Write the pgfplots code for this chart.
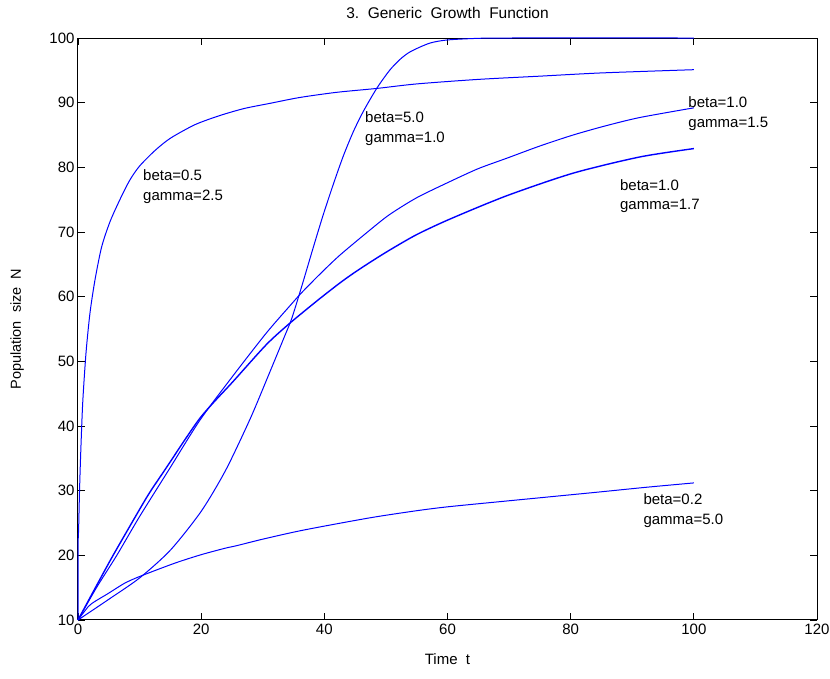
\documentclass[border=0pt]{standalone}
\usepackage{fontspec}
\setmainfont{Liberation Sans}
\usepackage{pgfplots}
\pgfplotsset{compat=1.18}
\pgfplotsset{curve/.style={blue, line width=1pt, smooth, tension=0.45, mark=none}}

\begin{document}
\begin{tikzpicture}
\useasboundingbox (-78pt,-59pt) rectangle (752pt,620pt);
\begin{axis}[
  at={(0,0)}, anchor=south west,
  scale only axis,
  width=739pt, height=582pt,
  xmin=0, xmax=120, ymin=10, ymax=100,
  xtick={0,20,...,120}, ytick={10,20,...,100},
  tick align=inside,
  major tick length=7pt,
  axis line style={line width=1pt},
  tick style={black, line width=0.8pt},
  /pgf/number format/assume math mode=true,
  tick label style={font=\fontsize{15}{18}\selectfont},
  title={3.\ \ Generic\ \ Growth\ \ Function},
  title style={at={(axis description cs:0.5,1.022)}, anchor=south, inner sep=0pt,
    font=\fontsize{15.5}{18}\selectfont},
  xlabel={Time\ \ t},
  xlabel style={at={(axis description cs:0.5,-0.057)}, anchor=north, inner sep=0pt,
    font=\fontsize{15}{18}\selectfont},
  ylabel={Population\ \ size\ \ N},
  ylabel style={at={(axis description cs:-0.073,0.5)}, anchor=south, inner sep=0pt,
    font=\fontsize{14.5}{18}\selectfont},
  clip=false,
]
% beta=0.5 gamma=2.5
\addplot[curve] coordinates {
  (0,10) (0.02,21.5) (0.1,24) (0.25,30) (0.43,35.5) (0.76,43.5) (1.3,51.3)
  (1.95,57.5) (2.76,62.6) (3.84,67.7) (5.2,71.6) (6.8,75.0) (8.4,78.0)
  (10,80.2) (12.5,82.6) (15,84.5) (19,86.6) (23,88.0) (27,89.1) (31.2,89.9)
  (36,90.8) (42,91.6) (48.5,92.2) (55,92.9) (65,93.6) (75,94.1) (85,94.6)
  (100,95.1)
};
% beta=5.0 gamma=1.0
\addplot[curve] coordinates {
  (0,10) (5,13.2) (10,16.5) (15,20.8) (20,26.8) (24,33.2) (28,41.2) (31,48.0)
  (33.6,54.0) (34.7,56.6) (36.3,61.5) (38.2,67.6) (39.8,72.6) (41.5,77.5)
  (43.1,81.8) (44.7,85.5) (46.3,88.6) (48.5,92.2) (50.6,95.0) (52.3,96.7)
  (54,97.9) (57.1,99.2) (60,99.7) (65,99.95) (70,100) (100,100)
};
% beta=1.0 gamma=1.5
\addplot[curve] coordinates {
  (0,10) (3,15) (6.3,20) (10,26.0) (14.8,33.3) (19.8,40.9) (25.2,47.8)
  (30.6,54.4) (34.7,58.9) (36.5,60.8) (39.3,63.5) (42.5,66.4) (47.4,70.3)
  (50.6,72.7) (55,75.3) (60.4,77.8) (65,79.8) (69.6,81.4) (75,83.3)
  (80.4,85.0) (85.6,86.4) (91.2,87.7) (100,89.2)
};
% beta=1.0 gamma=1.7
\addplot[curve, line width=1.4pt] coordinates {
  (0,10) (3,15.3) (5.7,20) (10,27.1) (11.7,29.8) (14.1,33.2) (19.8,41.2)
  (25.2,46.9) (30.6,52.6) (34.4,55.9) (39,59.5) (42.5,62.1) (44.7,63.6)
  (47.4,65.3) (50.6,67.2) (55,69.6) (60.4,72.0) (69.6,75.6) (80.4,79.1)
  (91.2,81.6) (100,82.9)
};
% beta=0.2 gamma=5.0
\addplot[curve] coordinates {
  (0,10) (1.7,12.1) (2.8,12.9) (4.9,14.1) (7.6,15.7) (10.2,16.8) (15.75,18.8)
  (20,20.1) (23.9,21.1) (25.8,21.5) (30,22.5) (36.6,23.9) (47.4,25.8)
  (55,26.9) (60,27.5) (68.5,28.3) (75,28.9) (84.7,29.8) (92,30.5) (100,31.2)
};
\begin{scope}[every node/.style={anchor=north west, inner sep=0pt, align=left,
    font=\fontsize{15}{19.7}\selectfont}]
\node at (axis cs:10.56,79.6) {beta=0.5\\gamma=2.5};
\node at (axis cs:46.6,88.6) {beta=5.0\\gamma=1.0};
\node at (axis cs:99.1,90.9) {beta=1.0\\gamma=1.5};
\node at (axis cs:88.0,78.2) {beta=1.0\\gamma=1.7};
\node at (axis cs:91.8,29.6) {beta=0.2\\gamma=5.0};
\end{scope}
\end{axis}
\end{tikzpicture}
\end{document}
